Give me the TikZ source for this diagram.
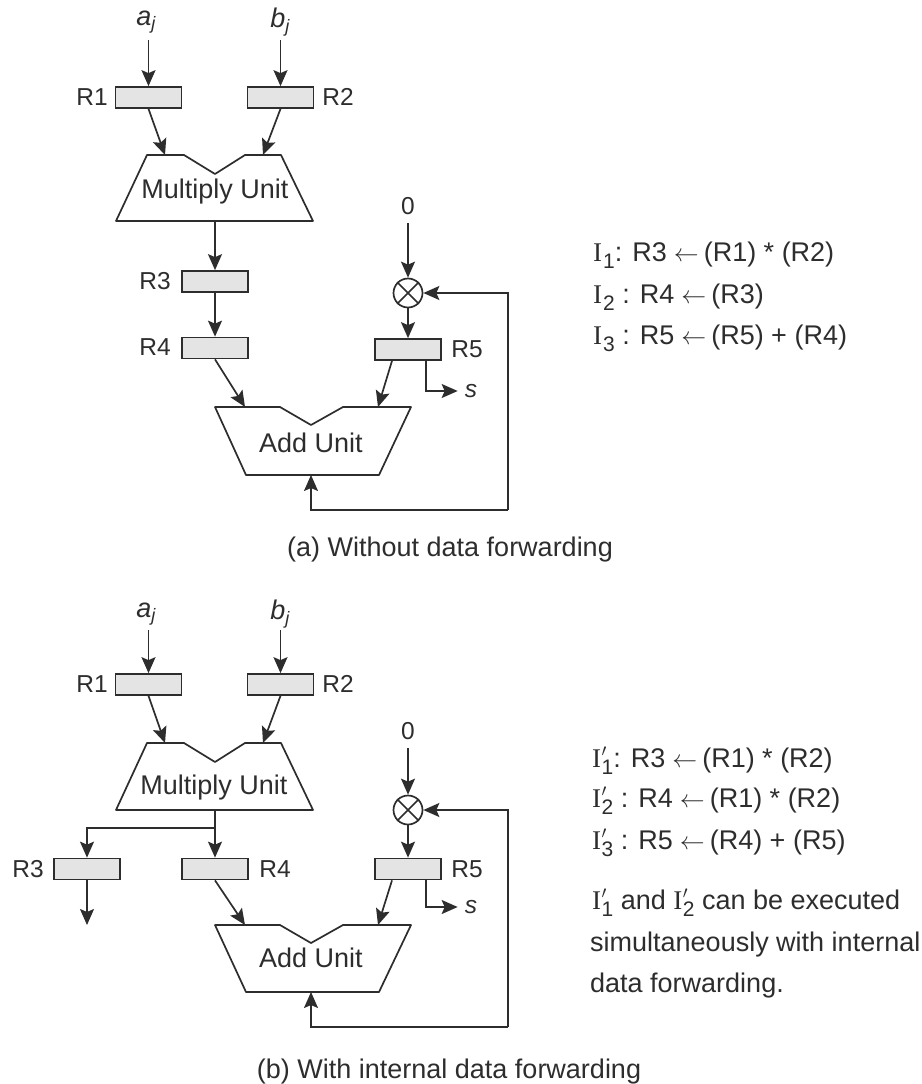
\documentclass[tikz,border=0pt]{standalone}
\usepackage{fontspec}
\setmainfont{Liberation Sans}
\newfontfamily\serifI{Liberation Serif}
\usetikzlibrary{arrows.meta}
\definecolor{ink}{RGB}{45,45,45}
\definecolor{regfill}{RGB}{228,228,228}
\newcommand{\subnum}[1]{\raisebox{-7pt}{\fontsize{21}{21}\selectfont #1}}
\newcommand{\Ip}[1]{{\serifI I}\hspace{0.5pt}\rlap{\raisebox{1pt}{$'$}}\subnum{#1}}
\newcommand{\In}[1]{{\serifI I}\hspace{1pt}\subnum{#1}}
\newcommand{\la}{\hspace{7pt}$\leftarrow$\hspace{5pt}}
\newcommand{\sj}[1]{\textit{#1}\raisebox{-0.3ex}{\fontsize{18}{18}\selectfont\textit{j}}}
\tikzset{
  x=1pt,y=-1pt,
  every node/.style={font=\fontsize{24.5}{29}\selectfont,text=ink},
  reg/.style={draw=ink,fill=regfill,line width=1.7pt,minimum width=66pt,minimum height=21pt,inner sep=0pt},
  lab/.style={inner sep=0pt},
  big/.style={inner sep=0pt,font=\fontsize{27}{32}\selectfont},
  unitline/.style={draw=ink,line width=1.7pt,line join=round},
  conn/.style={draw=ink,line width=1.7pt,-{Stealth[length=16pt,width=14pt,inset=3pt]}},
  plain/.style={draw=ink,line width=1.7pt},
  mux/.style={circle,draw=ink,line width=1.7pt,minimum size=29pt,inner sep=0pt,fill=white},
  instr/.style={inner sep=0pt,anchor=base west,font=\fontsize{27}{32}\selectfont},
}
\begin{document}
\begin{tikzpicture}
\useasboundingbox (0,0) rectangle (921,1084);
% ---------- (a) ----------
\node[big] (aa) at (146,22) {\sj{a}};
\node[big] (ab) at (280,22) {\sj{b}};
\coordinate (aaf) at (148.5,40);
\coordinate (abf) at (280.5,40);
\node[reg] (aR1) at (148.5,97.5) {};
\node[reg] (aR2) at (280.5,97.5) {};
\node[lab] at (92,97) (aR1l) {R1};
\node[lab] at (338,97) (aR2l) {R2};
\draw[conn] (aaf) -- (aR1.north);
\draw[conn] (abf) -- (aR2.north);
\draw[unitline] (147,155) -- (184,155) -- (215,174) -- (245,155) -- (281,155) -- (313,221) -- (116,221) -- cycle;
\coordinate (amin1) at (165,155);
\coordinate (amin2) at (263,155);
\coordinate (amout) at (215,221);
\node[big] (amu) at (215,192) {Multiply Unit};
\draw[conn] (aR1.south) -- (amin1);
\draw[conn] (aR2.south) -- (amin2);
\node[reg] (aR3) at (215,281.5) {};
\node[reg] (aR4) at (215,348) {};
\node[lab] (aR3l) at (155,281) {R3};
\node[lab] (aR4l) at (155,347) {R4};
\draw[conn] (amout) -- (aR3.north);
\draw[conn] (aR3.south) -- (aR4.north);
\node[lab] (a0) at (408,206) {0};
\coordinate (a0f) at (408,223);
\node[mux] (amux) at (408,293) {};
\draw[plain] (amux.north west) -- (amux.south east) (amux.north east) -- (amux.south west);
\draw[conn] (a0f) -- (amux.north);
\node[reg] (aR5) at (408,349.5) {};
\node[lab] (aR5l) at (467,349) {R5};
\draw[conn] (amux.south) -- (aR5.north);
\draw[unitline] (215,407) -- (280,407) -- (311,425) -- (343,407) -- (411,407) -- (379,475) -- (246,475) -- cycle;
\coordinate (aain1) at (245,407);
\coordinate (aain2) at (378,407);
\coordinate (aafb) at (311,475);
\node[big] (aau) at (311,443) {Add Unit};
\draw[conn] (aR4.south) -- (aain1);
\draw[conn] ([xshift=-16pt]aR5.south) -- (aain2);
\node[lab] (as) at (471,391) {\textit{s}};
\draw[conn] ([xshift=18pt]aR5.south) |- ([xshift=-7pt]as.west);
\coordinate (afb1) at (508,510);
\coordinate (afb2) at (508,293);
\draw[conn] (afb1) -| (aafb);
\draw[conn] (afb1) -- (afb2) -- (amux.east);
\node[big] (acap) at (450,550) {(a) Without data forwarding};
\node[instr] (ai1) at (593,261) {\In{1}: R3\la(R1) * (R2)};
\node[instr] (ai2) at (593,303) {\In{2} : R4\la(R3)};
\node[instr] (ai3) at (593,344) {\In{3} : R5\la(R5) + (R4)};
% ---------- (b) ----------
\node[big] (ba) at (146,614) {\sj{a}};
\node[big] (bb) at (280,614) {\sj{b}};
\coordinate (baf) at (148.5,630);
\coordinate (bbf) at (280.5,630);
\node[reg] (bR1) at (148.5,684.5) {};
\node[reg] (bR2) at (280.5,684.5) {};
\node[lab] (bR1l) at (92,684) {R1};
\node[lab] (bR2l) at (338,684) {R2};
\draw[conn] (baf) -- (bR1.north);
\draw[conn] (bbf) -- (bR2.north);
\draw[unitline] (147,743) -- (184,743) -- (215,762) -- (245,743) -- (281,743) -- (313,810) -- (116,810) -- cycle;
\coordinate (bmin1) at (165,743);
\coordinate (bmin2) at (263,743);
\coordinate (bmout) at (215,810);
\coordinate (bbr) at (215,828);
\node[big] (bmu) at (214,788) {Multiply Unit};
\draw[conn] (bR1.south) -- (bmin1);
\draw[conn] (bR2.south) -- (bmin2);
\node[reg] (bR3) at (87,869) {};
\node[reg] (bR4) at (215,869) {};
\node[lab] (bR3l) at (28,869) {R3};
\node[lab] (bR4l) at (275,869) {R4};
\draw[conn] (bmout) -- (bR4.north);
\draw[conn] (bbr) -| (bR3.north);
\coordinate (bR3o) at (87,925);
\draw[conn] (bR3.south) -- (bR3o);
\node[lab] (b0) at (408,731) {0};
\coordinate (b0f) at (408,748);
\node[mux] (bmux) at (408,810) {};
\draw[plain] (bmux.north west) -- (bmux.south east) (bmux.north east) -- (bmux.south west);
\draw[conn] (b0f) -- (bmux.north);
\node[reg] (bR5) at (408,869) {};
\node[lab] (bR5l) at (467,869) {R5};
\draw[conn] (bmux.south) -- (bR5.north);
\draw[unitline] (215,925) -- (280,925) -- (311,943) -- (343,925) -- (411,925) -- (379,992) -- (246,992) -- cycle;
\coordinate (bain1) at (245,925);
\coordinate (bain2) at (378,925);
\coordinate (bafb) at (311,992);
\node[big] (bau) at (311,958) {Add Unit};
\draw[conn] (bR4.south) -- (bain1);
\draw[conn] ([xshift=-16pt]bR5.south) -- (bain2);
\node[lab] (bs) at (471,907) {\textit{s}};
\draw[conn] ([xshift=18pt]bR5.south) |- ([xshift=-7pt]bs.west);
\coordinate (bfb1) at (508,1027);
\coordinate (bfb2) at (508,810);
\draw[conn] (bfb1) -| (bafb);
\draw[conn] (bfb1) -- (bfb2) -- (bmux.east);
\node[big] (bcap) at (449,1072) {(b) With internal data forwarding};
\node[instr] (bi1) at (592,767) {\Ip{1}: R3\la(R1) * (R2)};
\node[instr] (bi2) at (592,807) {\Ip{2} : R4\la(R1) * (R2)};
\node[instr] (bi3) at (592,849) {\Ip{3} : R5\la(R4) + (R5)};
\node[instr] (bt1) at (592,909) {\Ip{1} and \Ip{2} can be executed};
\node[instr] (bt2) at (590,951) {simultaneously with internal};
\node[instr] (bt3) at (590,992) {data forwarding.};
\end{tikzpicture}
\end{document}
